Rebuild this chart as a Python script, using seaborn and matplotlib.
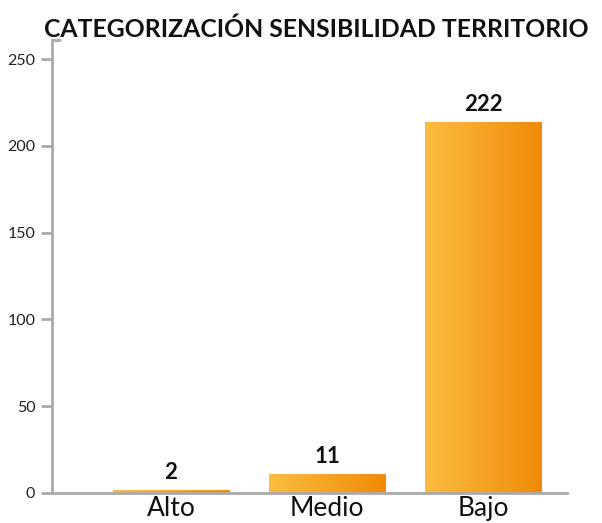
import numpy as np
import pandas as pd
import matplotlib
matplotlib.use("Agg")
import matplotlib.pyplot as plt
import seaborn as sns
from matplotlib.colors import LinearSegmentedColormap

categories = ["Alto", "Medio", "Bajo"]
values = [2, 11, 222]          # labelled values
bar_heights = [2, 11, 214]     # drawn heights
y_ticks = [0, 50, 100, 150, 200, 250]
title = "CATEGORIZACIÓN SENSIBILIDAD TERRITORIO"

df = pd.DataFrame({"cat": categories, "h": bar_heights, "v": values})

sns.set_style("white")
plt.rcParams["font.family"] = ["Lato", "DejaVu Sans"]

W, H = 602, 523
fig = plt.figure(figsize=(W / 100, H / 100), dpi=100)
L, R, B, T = 52, 567, 493, 40
ax = fig.add_axes([L / W, 1 - B / H, (R - L) / W, (B - T) / H])

sns.barplot(data=df, x="cat", y="h", ax=ax, width=0.744, color="#f6a321",
            saturation=1, edgecolor="none")

ax.set_xlim(-0.763, 2.538)
ax.set_ylim(0, 261)

cmap = LinearSegmentedColormap.from_list("g", ["#fbbd41", "#f08a08"])
grad = np.linspace(0, 1, 256).reshape(1, -1)
for p in ax.patches:
    x0, y0 = p.get_x(), p.get_y()
    w, h = p.get_width(), p.get_height()
    p.set_facecolor("none")
    im = ax.imshow(grad, cmap=cmap, aspect="auto", extent=[x0, x0 + w, y0, y0 + h],
                   zorder=2, interpolation="bilinear")
    im.set_clip_path(p)

for i, v in enumerate(values):
    ax.annotate(str(v), (i, bar_heights[i]), xytext=(0, 5), textcoords="offset points",
                ha="center", va="bottom", fontsize=16, fontweight="bold", color="#111111")

ax.set_xlim(-0.763, 2.538)
ax.set_ylim(0, 261)
ax.set_yticks(y_ticks)
ax.set_yticklabels([str(t) for t in y_ticks], fontsize=11.5, color="#222222")
ax.set_xticks(range(len(categories)))
ax.set_xticklabels(categories, fontsize=19, color="#111111")
ax.tick_params(axis="y", length=8, width=2, color="#aaaaaa", pad=4, direction="out", left=True)
ax.tick_params(axis="x", length=0, pad=2)
ax.set_xlabel("")
ax.set_ylabel("")

for s in ["top", "right"]:
    ax.spines[s].set_visible(False)
for s in ["left", "bottom"]:
    ax.spines[s].set_color("#aaaaaa")
    ax.spines[s].set_linewidth(2)

# small stub at top of the y axis
ax.plot([-0.763, -0.763 + 9 / 156], [261, 261], color="#aaaaaa", lw=2,
        clip_on=False, transform=ax.transData, solid_capstyle="butt")

fig.text(316 / W, 1 - 29 / H, title, fontsize=17.8, fontweight="bold", color="#111111",
         ha="center", va="center")

fig.savefig("out.png", dpi=100)
